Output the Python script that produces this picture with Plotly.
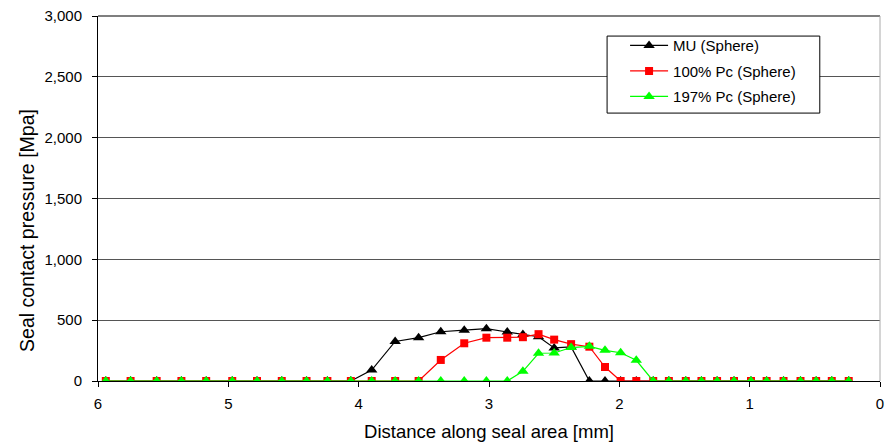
import plotly.graph_objects as go

distance_mm = [5.94, 5.75, 5.55, 5.36, 5.17, 4.97, 4.78, 4.59, 4.40, 4.24, 4.06, 3.90,
               3.72, 3.54, 3.37, 3.19, 3.02, 2.86, 2.74, 2.62, 2.50, 2.37, 2.23, 2.11,
               1.99, 1.87, 1.74, 1.62, 1.49, 1.37, 1.25, 1.12, 0.99, 0.87, 0.74, 0.61,
               0.49, 0.37, 0.24]

mu_sphere = [0, 0, 0, 0, 0, 0, 0, 0, 0, 0, 0, 90,
             325, 356, 405, 418, 430, 403, 382, 364, 272, 280, 0, 0,
             0, 0, 0, 0, 0, 0, 0, 0, 0, 0, 0, 0,
             0, 0, 0]

pc100_sphere = [0, 0, 0, 0, 0, 0, 0, 0, 0, 0, 0, 0,
                0, 0, 173, 310, 356, 356, 360, 385, 340, 303, 282, 115,
                0, 0, 0, 0, 0, 0, 0, 0, 0, 0, 0, 0,
                0, 0, 0]

pc197_sphere = [0, 0, 0, 0, 0, 0, 0, 0, 0, 0, 0, 0,
                0, 0, 0, 0, 0, 0, 80, 228, 230, 275, 285, 252,
                232, 170, 0, 0, 0, 0, 0, 0, 0, 0, 0, 0,
                0, 0, 0]

series_names = ["MU (Sphere)", "100% Pc (Sphere)", "197% Pc (Sphere)"]
y_ticks = [0, 500, 1000, 1500, 2000, 2500, 3000]
x_ticks = [6, 5, 4, 3, 2, 1, 0]

FONT = "Liberation Sans, Arial, sans-serif"

fig = go.Figure()
fig.add_trace(go.Scatter(
    x=distance_mm, y=mu_sphere, name=series_names[0], mode="lines+markers",
    legendgroup="a",
    line=dict(color="black", width=1.2),
    marker=dict(symbol="triangle-up", size=10, color="black")))
fig.add_trace(go.Scatter(
    x=distance_mm, y=pc100_sphere, name=series_names[1], mode="lines+markers",
    legendgroup="b",
    line=dict(color="#FF0000", width=1.2),
    marker=dict(symbol="square", size=8, color="#FF0000")))
fig.add_trace(go.Scatter(
    x=distance_mm, y=pc197_sphere, name=series_names[2], mode="lines+markers",
    legendgroup="c",
    line=dict(color="#00FF00", width=1.2),
    marker=dict(symbol="triangle-up", size=10, color="#00FF00")))

# page body adds an 8px margin, so the figure is sized/offset to compensate
fig.update_layout(
    width=887, height=434,
    margin=dict(l=90, r=15, t=8, b=61, autoexpand=False),
    paper_bgcolor="white", plot_bgcolor="white",
    font=dict(family=FONT, size=15, color="black"),
    showlegend=True,
    legend=dict(x=0.674, y=0.964, xanchor="left", yanchor="top",
                borderwidth=0, bgcolor="rgba(0,0,0,0)",
                font=dict(family=FONT, size=15, color="black"),
                tracegroupgap=3, itemwidth=38, itemsizing="trace"),
    xaxis=dict(range=[6, 0], tickvals=x_ticks, ticktext=[str(v) for v in x_ticks],
               showgrid=False, zeroline=False, showline=True, linecolor="black",
               linewidth=1, ticks="outside", ticklen=5, tickcolor="black",
               ticklabelstandoff=4, automargin=False, ticklabeloverflow="allow",
               title=dict(text="Distance along seal area [mm]", standoff=14,
                          font=dict(family=FONT, size=18.5))),
    yaxis=dict(range=[0, 3000], tickvals=y_ticks, tickformat=",",
               showgrid=True, gridcolor="#555555", gridwidth=1.3,
               zeroline=False, showline=True, linecolor="black", linewidth=1,
               ticks="outside", ticklen=5, tickcolor="black",
               ticklabelstandoff=7, automargin=False, ticklabeloverflow="allow"),
)

fig.add_annotation(text="Seal contact pressure [Mpa]", textangle=-90,
                   xref="paper", yref="paper", x=-0.0908, y=0.414,
                   xanchor="center", yanchor="middle", showarrow=False,
                   font=dict(family=FONT, size=19.5, color="black"))

fig.add_shape(type="line", xref="paper", yref="paper", x0=0, x1=1, y0=1, y1=1,
              line=dict(color="#555555", width=1.3))
fig.add_shape(type="line", xref="paper", yref="paper", x0=1, x1=1, y0=0, y1=1,
              line=dict(color="#aaaaaa", width=1))
fig.add_shape(type="rect", xref="paper", yref="paper",
              x0=0.651, x1=0.923, y0=0.734, y1=0.945, layer="above",
              fillcolor="white", line=dict(color="black", width=1))

fig.write_html("out.html")
